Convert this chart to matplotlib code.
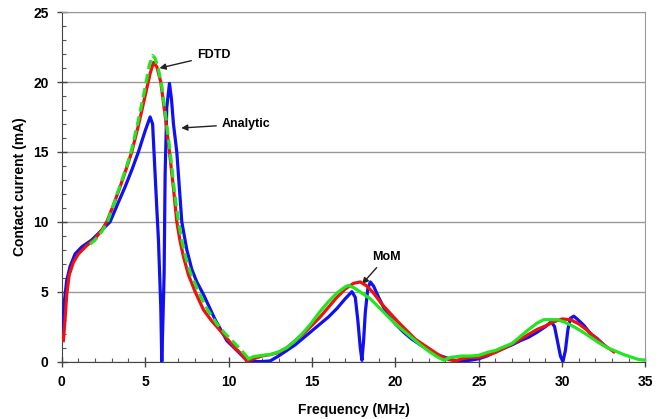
import numpy as np
import matplotlib
matplotlib.use("Agg")
import matplotlib.pyplot as plt
from matplotlib.ticker import MultipleLocator

plt.rcParams['font.family'] = ['Liberation Sans', 'DejaVu Sans']

# Analytic (blue)
analytic_f = [0.05, 0.15, 0.3, 0.5, 0.8, 1.2, 1.8, 2.4, 2.9, 3.4, 3.8, 4.2, 4.6, 5.0, 5.3,
              5.45, 5.6, 5.7, 5.8, 5.94, 6.0, 6.07, 6.14, 6.2, 6.3, 6.46, 6.58, 6.7, 6.9,
              7.05, 7.2, 7.5, 7.8, 8.1, 8.5, 9.2, 9.9, 10.5, 11.0, 11.3, 11.7, 12.0,
              12.5, 13.0, 13.5, 14.0, 15.0, 16.0, 16.5, 17.0, 17.4, 17.6, 17.75, 17.9, 18.0,
              18.1, 18.2, 18.35, 18.5, 18.7, 19.0, 19.5, 20.0, 20.5, 21.0, 21.5, 22.0, 22.5,
              23.0, 23.5, 24.0, 24.5, 25.0, 25.5, 26.0, 26.5, 27.0, 27.5, 28.0, 28.5, 29.0,
              29.35, 29.55, 29.75, 29.9, 30.05, 30.2, 30.35, 30.5, 30.7, 30.9, 31.3, 31.7,
              32.1, 32.5]
analytic_i = [2.2, 4.2, 5.8, 6.8, 7.7, 8.2, 8.7, 9.4, 10.0, 11.4, 12.5, 13.7, 15.0, 16.5, 17.5,
              17.0, 13.4, 11.0, 8.7, 3.9, 0.0, 3.0, 6.3, 13.4, 18.2, 19.9, 18.8, 17.0, 15.0,
              12.5, 10.0, 8.0, 6.6, 5.7, 4.8, 3.0, 1.5, 0.8, 0.2, 0.0, 0.0, 0.0,
              0.05, 0.4, 0.8, 1.2, 2.2, 3.2, 3.8, 4.5, 5.0, 4.6, 3.0, 1.0, 0.1,
              1.5, 3.5, 5.2, 5.7, 5.4, 4.6, 3.4, 2.7, 2.1, 1.6, 1.2, 0.85, 0.5,
              0.3, 0.1, 0.05, 0.1, 0.2, 0.4, 0.7, 0.95, 1.2, 1.5, 1.75, 2.1, 2.5,
              2.85, 2.5, 1.3, 0.4, 0.0, 0.8, 2.3, 3.1, 3.25, 3.05, 2.6, 2.0,
              1.65, 1.2]

# red curve
red_f = [0.1, 0.2, 0.3, 0.45, 0.7, 1.0, 1.5, 2.0, 2.4, 2.7, 3.1, 3.5, 3.9, 4.2, 4.6, 5.0,
         5.3, 5.5, 5.7, 5.94, 6.2, 6.46, 6.7, 6.9, 7.1, 7.3, 7.6, 8.0, 8.5, 9.0, 9.3, 9.8,
         10.3, 10.8, 11.1, 11.5, 12.0, 12.5, 13.0, 13.5, 14.0, 14.5, 15.0, 15.5, 16.0, 16.5,
         17.0, 17.5, 17.9, 18.3, 18.7, 19.2, 19.7, 20.2, 20.7, 21.2, 21.7, 22.2, 22.7, 23.2,
         23.6, 24.0, 24.5, 25.0, 25.5, 26.0, 26.5, 27.0, 27.5, 28.0, 28.5, 29.0, 29.5, 30.0,
         30.5, 31.0, 31.5, 32.0, 32.5, 33.1]
red_i = [1.5, 3.0, 4.8, 6.2, 7.1, 7.7, 8.3, 8.8, 9.4, 10.0, 11.2, 12.5, 13.9, 15.0, 16.9, 19.0,
         20.6, 21.4, 21.1, 20.0, 17.6, 15.0, 12.4, 10.0, 8.6, 7.5, 6.2, 5.0, 3.7, 2.9, 2.5, 1.8,
         1.1, 0.5, 0.05, 0.2, 0.4, 0.5, 0.65, 1.0, 1.5, 2.0, 2.6, 3.2, 3.9, 4.6,
         5.2, 5.6, 5.7, 5.4, 4.9, 4.1, 3.45, 2.8, 2.2, 1.6, 1.2, 0.8, 0.4, 0.15,
         0.05, 0.2, 0.3, 0.3, 0.45, 0.65, 0.95, 1.25, 1.6, 1.95, 2.3, 2.55, 2.85, 3.05,
         3.0, 2.7, 2.25, 1.7, 1.2, 0.7]

# green curve, dashed part then solid part
green_f1 = [1.7, 2.0, 2.4, 2.75, 3.1, 3.5, 3.9, 4.2, 4.6, 5.0, 5.25, 5.45, 5.6, 5.8, 6.0,
            6.25, 6.5, 6.75, 7.0, 7.2, 7.4, 7.7, 8.2, 8.7, 9.3, 9.8, 10.3, 10.7, 11.0, 11.2]
green_i1 = [8.4, 8.7, 9.3, 10.0, 11.2, 12.6, 14.0, 15.2, 17.3, 19.6, 21.2, 21.9, 21.7, 20.9, 19.7,
            17.4, 15.0, 12.3, 10.0, 8.7, 7.6, 6.4, 5.0, 3.8, 2.7, 2.0, 1.4, 0.9, 0.5, 0.2]
green_f2 = [11.2, 11.5, 12.0, 12.5, 13.0, 13.5, 14.0, 14.5, 15.0, 15.5, 16.0, 16.5, 17.0, 17.2,
            17.5, 18.0, 18.5, 19.0, 19.5, 20.0, 20.5, 21.0, 21.5, 22.0, 22.5, 22.9, 23.3, 24.0,
            24.5, 25.0, 25.5, 26.0, 26.5, 27.0, 27.5, 28.0, 28.5, 28.9, 29.3, 29.7, 30.2, 30.7,
            31.2, 31.7, 32.2, 32.7, 33.2, 33.7, 34.2, 34.6, 35.0]
green_i2 = [0.2, 0.35, 0.45, 0.5, 0.7, 1.0, 1.5, 2.1, 2.8, 3.6, 4.3, 4.9, 5.35, 5.45,
            5.3, 4.9, 4.5, 3.9, 3.3, 2.7, 2.2, 1.7, 1.2, 0.75, 0.35, 0.1, 0.3, 0.4,
            0.4, 0.45, 0.65, 0.8, 1.05, 1.3, 1.8, 2.3, 2.75, 3.0, 3.0, 3.0, 2.8, 2.5,
            2.15, 1.75, 1.35, 1.0, 0.75, 0.5, 0.3, 0.15, 0.1]

fig = plt.figure(figsize=(6.6, 4.19), dpi=100)
ax = fig.add_axes([0.0935, 0.137, 0.8845, 0.834])

ax.plot(analytic_f, analytic_i, color='#1010f0', lw=2.3, zorder=3)
ax.plot(red_f, red_i, color='#f01010', lw=2.3, zorder=4)
ax.plot(green_f1, green_i1, color='#22e622', lw=2.3, ls=(0, (3, 1.5)), zorder=5)
ax.plot(green_f2, green_i2, color='#22e622', lw=2.3, zorder=5)

ax.set_xlim(0, 35)
ax.set_ylim(0, 25)
ax.xaxis.set_major_locator(MultipleLocator(5))
ax.xaxis.set_minor_locator(MultipleLocator(1))
ax.yaxis.set_major_locator(MultipleLocator(5))
ax.yaxis.set_minor_locator(MultipleLocator(1))
ax.tick_params(which='major', direction='inout', length=7, width=1, color='#444444',
               labelsize=10, pad=6)
ax.tick_params(which='minor', direction='in', length=3, width=0.8, color='#555555')
for lab in ax.get_xticklabels() + ax.get_yticklabels():
    lab.set_fontweight('bold')

ax.grid(axis='y', which='major', color='#999999', lw=1)
ax.set_axisbelow(True)
ax.spines['left'].set_color('#444444')
ax.spines['bottom'].set_color('#444444')
ax.spines['top'].set_color('#999999')
ax.spines['right'].set_color('#999999')

ax.set_xlabel('Frequency (MHz)', fontsize=10, fontweight='bold', labelpad=10)
ax.set_ylabel('Contact current (mA)', fontsize=10, fontweight='bold', labelpad=4)

arrow = dict(arrowstyle='-|>', color='#222222', lw=1, mutation_scale=9)
ax.annotate('FDTD', xy=(5.7, 20.95), xytext=(8.1, 21.9), fontsize=9, fontweight='bold',
            va='center', arrowprops=arrow)
ax.annotate('Analytic', xy=(7.0, 16.7), xytext=(9.6, 17.0), fontsize=9, fontweight='bold',
            va='center', arrowprops=arrow)
ax.annotate('MoM', xy=(17.9, 5.4), xytext=(18.6, 7.5), fontsize=9, fontweight='bold',
            va='center', arrowprops=arrow)

fig.savefig('out.png', dpi=100)
